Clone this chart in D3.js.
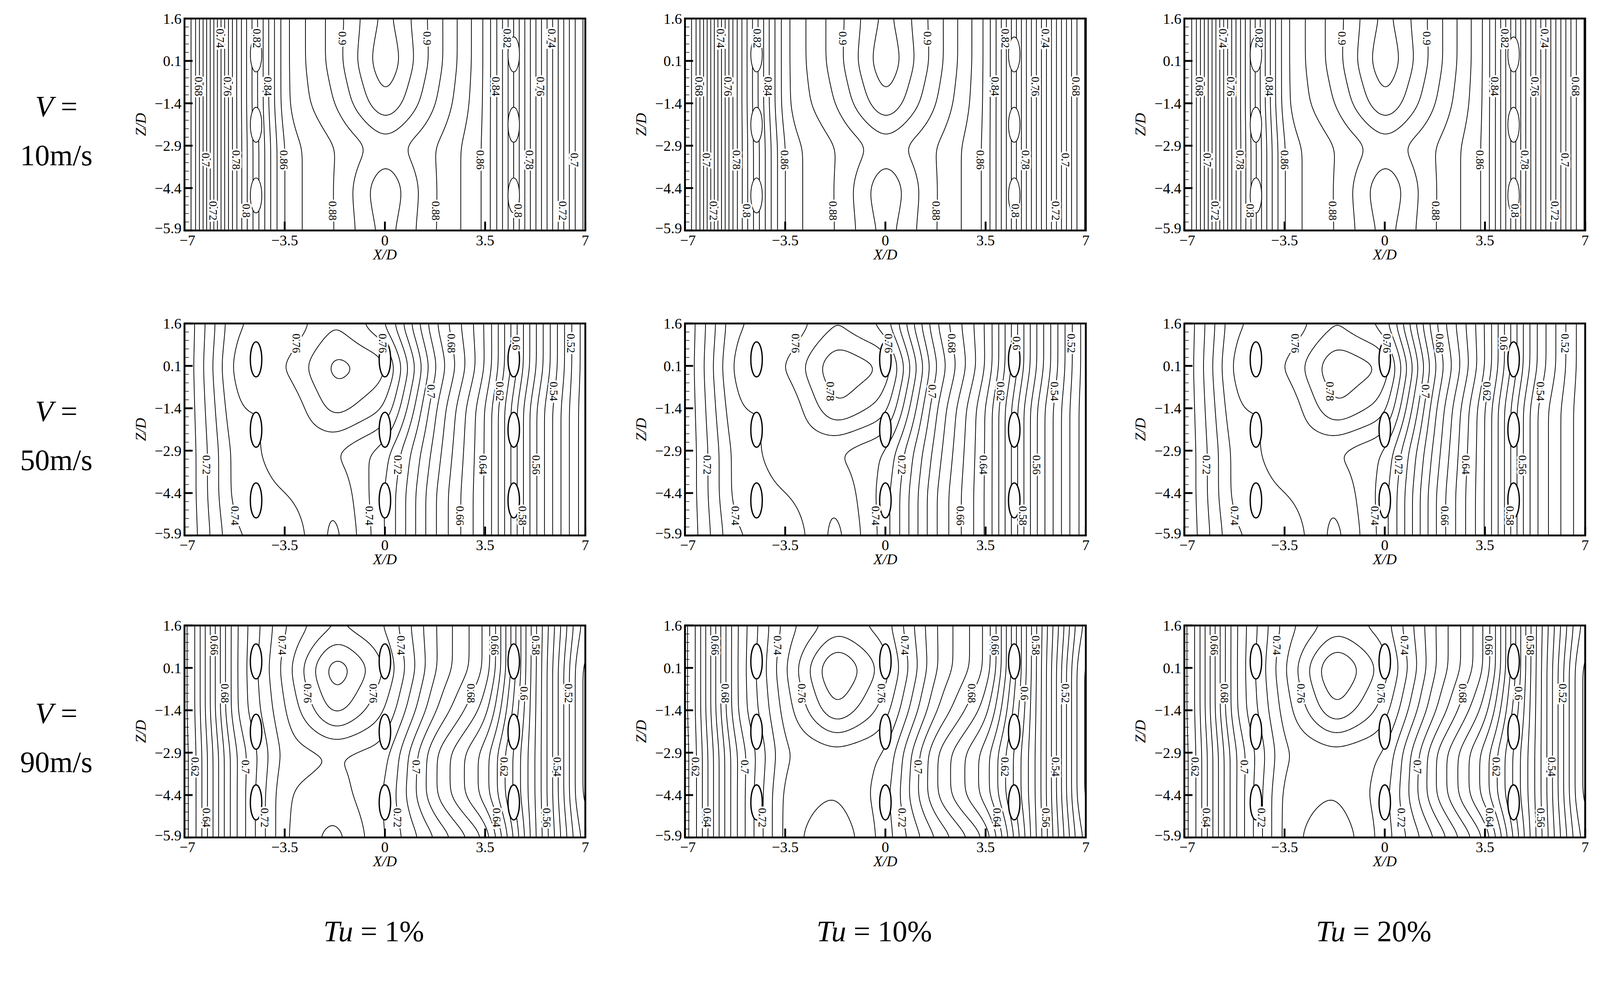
<!DOCTYPE html>
<html><head><meta charset="utf-8">
<script src="https://cdn.jsdelivr.net/npm/d3@7"></script>
<style>html,body{margin:0;padding:0;background:#fff;overflow:hidden}svg{display:block;width:100vw;height:100vh}</style>
</head><body><svg id="c" viewBox="0 0 4319 2567" preserveAspectRatio="xMinYMin meet"></svg>
<script>
// ---- data ----
const xKnots = [-7,-5.25,-3.5,-1.75,0,1.75,3.5,5.25,7];
const zKnots = [1.6,0.1,-1.4,-2.9,-4.4,-5.9];
const xTicks = [-7,-3.5,0,3.5,7];
const zTicks = [1.6,0.1,-1.4,-2.9,-4.4,-5.9];
const rowLabels = ["10m/s","50m/s","90m/s"];
const colLabels = ["1%","10%","20%"];
// field grids (rows = zKnots, cols = xKnots)
const g10_1 = [[.64,.78,.87,.895,.925,.895,.86,.77,.68],[.64,.78,.87,.895,.93,.895,.86,.77,.68],[.64,.78,.87,.89,.92,.89,.86,.77,.68],[.64,.78,.865,.88,.895,.88,.86,.77,.68],[.64,.78,.865,.88,.91,.88,.86,.77,.68],[.64,.78,.865,.88,.905,.88,.86,.77,.68]];
const g10_10 = [[.64,.78,.87,.895,.925,.895,.86,.76,.66],[.64,.78,.87,.895,.93,.895,.86,.76,.66],[.64,.78,.87,.89,.92,.89,.86,.76,.66],[.64,.78,.865,.88,.895,.88,.86,.76,.66],[.64,.78,.865,.88,.91,.88,.86,.76,.66],[.64,.78,.865,.88,.905,.88,.86,.76,.66]];
const g10_20 = [[.64,.77,.87,.895,.925,.895,.86,.76,.66],[.64,.77,.87,.895,.93,.895,.86,.76,.66],[.64,.77,.87,.89,.92,.89,.86,.76,.66],[.64,.77,.865,.88,.895,.88,.86,.76,.66],[.64,.77,.865,.88,.91,.88,.86,.76,.66],[.64,.77,.865,.88,.905,.88,.86,.76,.66]];
const g50_1 = [[.70,.75,.75,.77,.75,.69,.65,.57,.50],[.70,.755,.76,.785,.775,.70,.65,.57,.50],[.70,.75,.75,.775,.76,.69,.64,.56,.50],[.70,.745,.755,.75,.735,.685,.64,.56,.50],[.70,.745,.75,.76,.73,.68,.64,.56,.50],[.70,.74,.74,.765,.73,.68,.64,.56,.50]];
const g50_10 = [[.70,.75,.75,.77,.755,.69,.65,.57,.50],[.70,.755,.76,.79,.78,.70,.65,.57,.50],[.70,.75,.75,.78,.765,.69,.64,.56,.50],[.70,.745,.755,.75,.74,.685,.64,.56,.50],[.70,.745,.75,.76,.735,.68,.64,.56,.50],[.70,.74,.74,.765,.735,.68,.64,.56,.50]];
const g50_20 = [[.70,.75,.75,.77,.755,.68,.63,.55,.50],[.70,.755,.76,.79,.78,.69,.63,.55,.50],[.70,.75,.75,.78,.765,.68,.62,.54,.50],[.70,.745,.755,.75,.74,.675,.62,.54,.50],[.70,.745,.75,.76,.735,.67,.62,.54,.50],[.70,.74,.74,.765,.735,.67,.62,.54,.50]];
const g90_1 = [[.60,.70,.74,.76,.75,.71,.68,.58,.50],[.60,.70,.745,.79,.76,.71,.68,.58,.49],[.60,.70,.74,.775,.75,.70,.665,.58,.49],[.60,.69,.735,.74,.735,.68,.645,.58,.49],[.60,.69,.74,.745,.73,.68,.645,.58,.49],[.60,.69,.74,.755,.73,.70,.67,.58,.50]];
const g90_10 = [[.60,.70,.745,.765,.755,.71,.68,.58,.49],[.60,.70,.75,.795,.765,.71,.68,.58,.48],[.60,.70,.745,.78,.755,.70,.665,.58,.48],[.60,.69,.74,.745,.74,.68,.645,.58,.48],[.60,.69,.745,.75,.735,.68,.645,.58,.48],[.60,.69,.745,.76,.735,.70,.67,.58,.49]];
const g90_20 = [[.60,.70,.745,.765,.755,.71,.67,.57,.49],[.60,.70,.75,.795,.765,.71,.67,.57,.48],[.60,.70,.745,.78,.755,.70,.655,.57,.48],[.60,.69,.74,.745,.74,.68,.635,.57,.48],[.60,.69,.745,.75,.735,.68,.635,.57,.48],[.60,.69,.745,.76,.735,.70,.66,.57,.49]];
const grids = [[g10_1,g10_10,g10_20],[g50_1,g50_10,g50_20],[g90_1,g90_10,g90_20]];
const holeX10 = [-4.5,4.5];
const holeX = [-4.5,0,4.5];
const holeZ = [0.33,-2.16,-4.66];

// ---- layout ----
const colX = [498,1849,3197], panelW = 1082;
const rowY = [50,873,1688], panelH = 572;
const svg = d3.select("#c");
const serif = "Liberation Serif, Times New Roman, serif";

const NX=281, NZ=151;
for(let r=0;r<3;r++){
  const cy = rowY[r]+panelH/2;
  const rl = svg.append("text").attr("x",152).attr("y",cy-22).attr("text-anchor","middle")
    .attr("font-family",serif).attr("font-size",80);
  rl.append("tspan").attr("font-style","italic").text("V");
  rl.append("tspan").text(" =");
  svg.append("text").attr("x",152).attr("y",cy+110).attr("text-anchor","middle")
    .attr("font-family",serif).attr("font-size",80).text(rowLabels[r]);
  for(let c=0;c<3;c++){
    const G = grids[r][c];
    const x = d3.scaleLinear().domain([-7,7]).range([colX[c],colX[c]+panelW]);
    const z = d3.scaleLinear().domain([-5.9,1.6]).range([rowY[r]+panelH,rowY[r]]);
    const colScales = xKnots.map((_,j)=>d3.scaleLinear().domain(zKnots).range(G.map(row=>row[j])));
    const data = new Float64Array(NX*NZ);
    for(let k=0;k<NZ;k++){
      const zz = 1.6 - 7.5*k/(NZ-1);
      const rowVals = colScales.map(s=>s(zz));
      const sx = d3.scaleLinear().domain(xKnots).range(rowVals);
      for(let i=0;i<NX;i++){ data[k*NX+i] = sx(-7+14*i/(NX-1)); }
    }
    d3.blur2({data,width:NX,height:NZ},5);
    const ext = d3.extent(data);
    const thr = d3.range(Math.ceil(ext[0]*100)/100, ext[1], 0.01).map(v=>+v.toFixed(2));
    const conts = d3.contours().size([NX,NZ]).thresholds(thr)(data);
    const proj = d3.geoTransform({point:function(px,py){
      this.stream.point(x(-7+14*px/(NX-1)), z(1.6-7.5*py/(NZ-1)));}});
    const path = d3.geoPath(proj);
    const g = svg.append("g");
    g.append("clipPath").attr("id",`cl${r}${c}`).append("rect")
      .attr("x",colX[c]).attr("y",rowY[r]).attr("width",panelW).attr("height",panelH);
    const inner = g.append("g").attr("clip-path",`url(#cl${r}${c})`);
    inner.selectAll("path.ct").data(conts).join("path").attr("class","ct")
      .attr("d",path).attr("fill","none").attr("stroke","#000").attr("stroke-width",2);
    const hx = r===0?holeX10:holeX;
    hx.forEach(h=>holeZ.forEach(hz=>{
      inner.append("ellipse").attr("cx",x(h)).attr("cy",z(hz))
        .attr("rx",x(0.2)-x(0)).attr("ry",z(0)-z(0.62))
        .attr("fill","#fff").attr("stroke","#000").attr("stroke-width",r===0?2:3.5);
    }));
    const labelRows=[0.9,-0.8,-3.4,-5.2];
    thr.forEach((t,ti)=>{
      if(Math.round(t*100)%2) return;
      const lz = labelRows[(ti/2|0)%4];
      const k = Math.round((1.6-lz)/7.5*(NZ-1));
      let last=-1e9;
      for(let i=1;i<NX;i++){
        const a=data[k*NX+i-1], b=data[k*NX+i];
        if((a-t)*(b-t)<0){
          const px = x(-7+14*(i-1+(t-a)/(b-a))/(NX-1));
          if(px-last<120||px<colX[c]+25||px>colX[c]+panelW-25) continue;
          last=px;
          const py=z(lz);
          inner.append("text").attr("transform",`translate(${px},${py}) rotate(90)`)
            .attr("text-anchor","middle").attr("dy","0.35em")
            .attr("font-family",serif).attr("font-size",30)
            .attr("stroke","#fff").attr("stroke-width",10).attr("paint-order","stroke")
            .text(String(t).replace(/^0?(\.\d*?)0*$/,"0$1"));
        }
      }
    });
    g.append("rect").attr("x",colX[c]).attr("y",rowY[r]).attr("width",panelW).attr("height",panelH)
      .attr("fill","none").attr("stroke","#000").attr("stroke-width",5);
    const zMinor = d3.range(-5.9,1.61,0.3);
    zMinor.forEach(v=>g.append("line").attr("x1",x(-7)).attr("x2",x(-7)+12).attr("y1",z(v)).attr("y2",z(v)).attr("stroke","#000").attr("stroke-width",1.5));
    zTicks.forEach(v=>{
      g.append("line").attr("x1",x(-7)).attr("x2",x(-7)+22).attr("y1",z(v)).attr("y2",z(v)).attr("stroke","#000").attr("stroke-width",5);
      g.append("text").attr("x",x(-7)-8).attr("y",z(v)-(v===-5.9?6:0)).attr("dy","0.35em").attr("text-anchor","end")
        .attr("font-family",serif).attr("font-size",40).text(String(v).replace("-","\u2212"));
    });
    xTicks.forEach(v=>{
      g.append("line").attr("x1",x(v)).attr("x2",x(v)).attr("y1",z(-5.9)).attr("y2",z(-5.9)-24).attr("stroke","#000").attr("stroke-width",5);
      g.append("text").attr("x",x(v)+(v===-7?8:0)).attr("y",z(-5.9)+40).attr("text-anchor","middle")
        .attr("font-family",serif).attr("font-size",40).text(String(v).replace("-","\u2212"));
    });
    g.append("text").attr("x",x(0)).attr("y",z(-5.9)+78).attr("text-anchor","middle")
      .attr("font-family",serif).attr("font-style","italic").attr("font-size",40).text("X/D");
    g.append("text").attr("transform",`translate(${colX[c]-105},${rowY[r]+panelH/2}) rotate(-90)`)
      .attr("text-anchor","middle").attr("font-family",serif).attr("font-style","italic")
      .attr("font-size",40).text("Z/D");
    if(r===2){
      const tl = svg.append("text").attr("x",colX[c]+panelW/2-30).attr("y",2540).attr("text-anchor","middle")
        .attr("font-family",serif).attr("font-size",80);
      tl.append("tspan").attr("font-style","italic").text("Tu");
      tl.append("tspan").text(" = "+colLabels[c]);
    }
  }
}
</script></body></html>
